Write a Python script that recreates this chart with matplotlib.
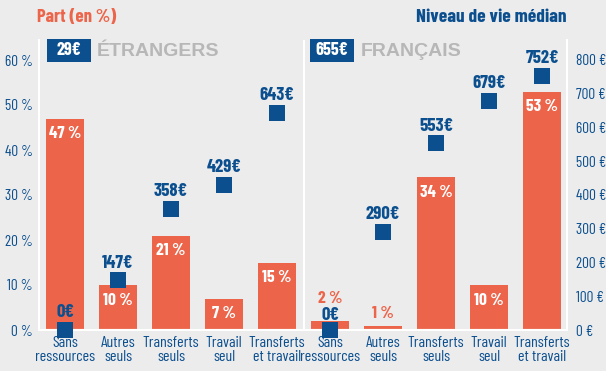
import matplotlib
matplotlib.use("Agg")
from matplotlib import font_manager
from matplotlib.patches import Rectangle
import matplotlib.pyplot as plt
import numpy as np

# data
categories = ["Sans\nressources", "Autres\nseuls", "Transferts\nseuls", "Travail\nseul", "Transferts\net travail"]
groups = ["ÉTRANGERS", "FRANÇAIS"]
group_median = [29, 655]
part_etrangers = [47, 10, 21, 7, 15]
part_francais = [2, 1, 34, 10, 53]
niveau_etrangers = [0, 147, 358, 429, 643]
niveau_francais = [0, 290, 553, 679, 752]

ORANGE = "#ec654b"
BLUE = "#0b4f8f"
BG = "#ececec"
GREY = "#b7b7b7"
W, H = 606, 371

available = {f.name for f in font_manager.fontManager.ttflist}
FONT = next((f for f in ["Barlow Condensed", "Roboto Condensed"] if f in available), "DejaVu Sans")
HEAD_FONT = "Liberation Sans" if "Liberation Sans" in available else "DejaVu Sans"
plt.rcParams["font.family"] = [FONT, "DejaVu Sans"]

parts = part_etrangers + part_francais
niveaux = niveau_etrangers + niveau_francais
labels = categories + categories
x = np.arange(len(parts))

fig = plt.figure(figsize=(W / 100, H / 100), dpi=100, facecolor=BG)
ax = fig.add_axes([39 / W, 41 / H, 528 / W, 290 / H])
ax.set_facecolor(BG)
ax2 = ax.twinx()

ymax = 290 / 4.5
ax.set_xlim(-0.49, 9.47)
ax.set_ylim(0, ymax)
ax2.set_ylim(0, ymax * 800 / 60)

ax.bar(x, parts, width=0.72, color=ORANGE, zorder=2)
ax2.scatter(x, niveaux, marker="s", s=125, color=BLUE, zorder=4, clip_on=False, linewidths=0)

# percentage labels: white inside the bar, orange above the small ones
for xi, p in zip(x, parts):
    if p >= 5:
        ax.annotate(f"{p}\u2009%", (xi, p), xytext=(0, -11), textcoords="offset points",
                    ha="center", va="center", color="white", fontsize=12.5, fontweight="bold")
    else:
        off = 16 if p == 2 else 9
        ax.annotate(f"{p}\u2009%", (xi, p), xytext=(0, off), textcoords="offset points",
                    ha="center", va="center", color=ORANGE, fontsize=12.5, fontweight="bold")

# euro labels above the squares
for i, (xi, v) in enumerate(zip(x, niveaux)):
    off = 10.5 if (v == 0 and i >= 5) else 12.5
    ax2.annotate(f"{v}€", (xi, v), xytext=(0, off), textcoords="offset points",
                 ha="center", va="center", color=BLUE, fontsize=13.5, fontweight="bold",
                 zorder=5)

ax.set_xticks(x)
ax.set_xticklabels(labels, color=BLUE, fontsize=11.5, linespacing=0.95)
ax.tick_params(axis="x", length=0, pad=4.5)

ax.set_yticks(range(0, 61, 10))
ax.set_yticklabels([f"{t} %" for t in range(0, 61, 10)], color=BLUE, fontsize=11)
ax.tick_params(axis="y", length=0, pad=4.5)
ax2.set_yticks(range(0, 801, 100))
ax2.set_yticklabels([f"{t} €" for t in range(0, 801, 100)], color=BLUE, fontsize=11)
ax2.tick_params(axis="y", length=0, pad=6.5)

for a in (ax, ax2):
    a.spines["top"].set_visible(False)
    for s in ("left", "right", "bottom"):
        a.spines[s].set_color("white")
        a.spines[s].set_linewidth(1.5)
ax.axvline(4.5, color="white", lw=1.5, zorder=1)

# group headers: median in a blue box, then the group name
for bx, nx, name, med in zip([47, 310], [97, 361], groups, group_median):
    fig.patches.append(Rectangle((bx / W, 1 - 62 / H), 44 / W, 23 / H,
                                 transform=fig.transFigure, fc=BLUE, ec="none"))
    fig.text((bx + 22) / W, 1 - 50.5 / H, f"{med}€", color="white", fontsize=13,
             fontweight="bold", ha="center", va="center")
    fig.text(nx / W, 1 - 51 / H, name, color=GREY, fontsize=14, family=HEAD_FONT,
             fontweight="bold", ha="left", va="center")

fig.text(37 / W, 1 - 17 / H, "Part (en %)", color=ORANGE, fontsize=13.5,
         fontweight="bold", ha="left", va="center")
fig.text(566 / W, 1 - 17 / H, "Niveau de vie médian", color=BLUE, fontsize=14,
         fontweight="bold", ha="right", va="center")

fig.savefig("out.png", dpi=100, facecolor=BG)
